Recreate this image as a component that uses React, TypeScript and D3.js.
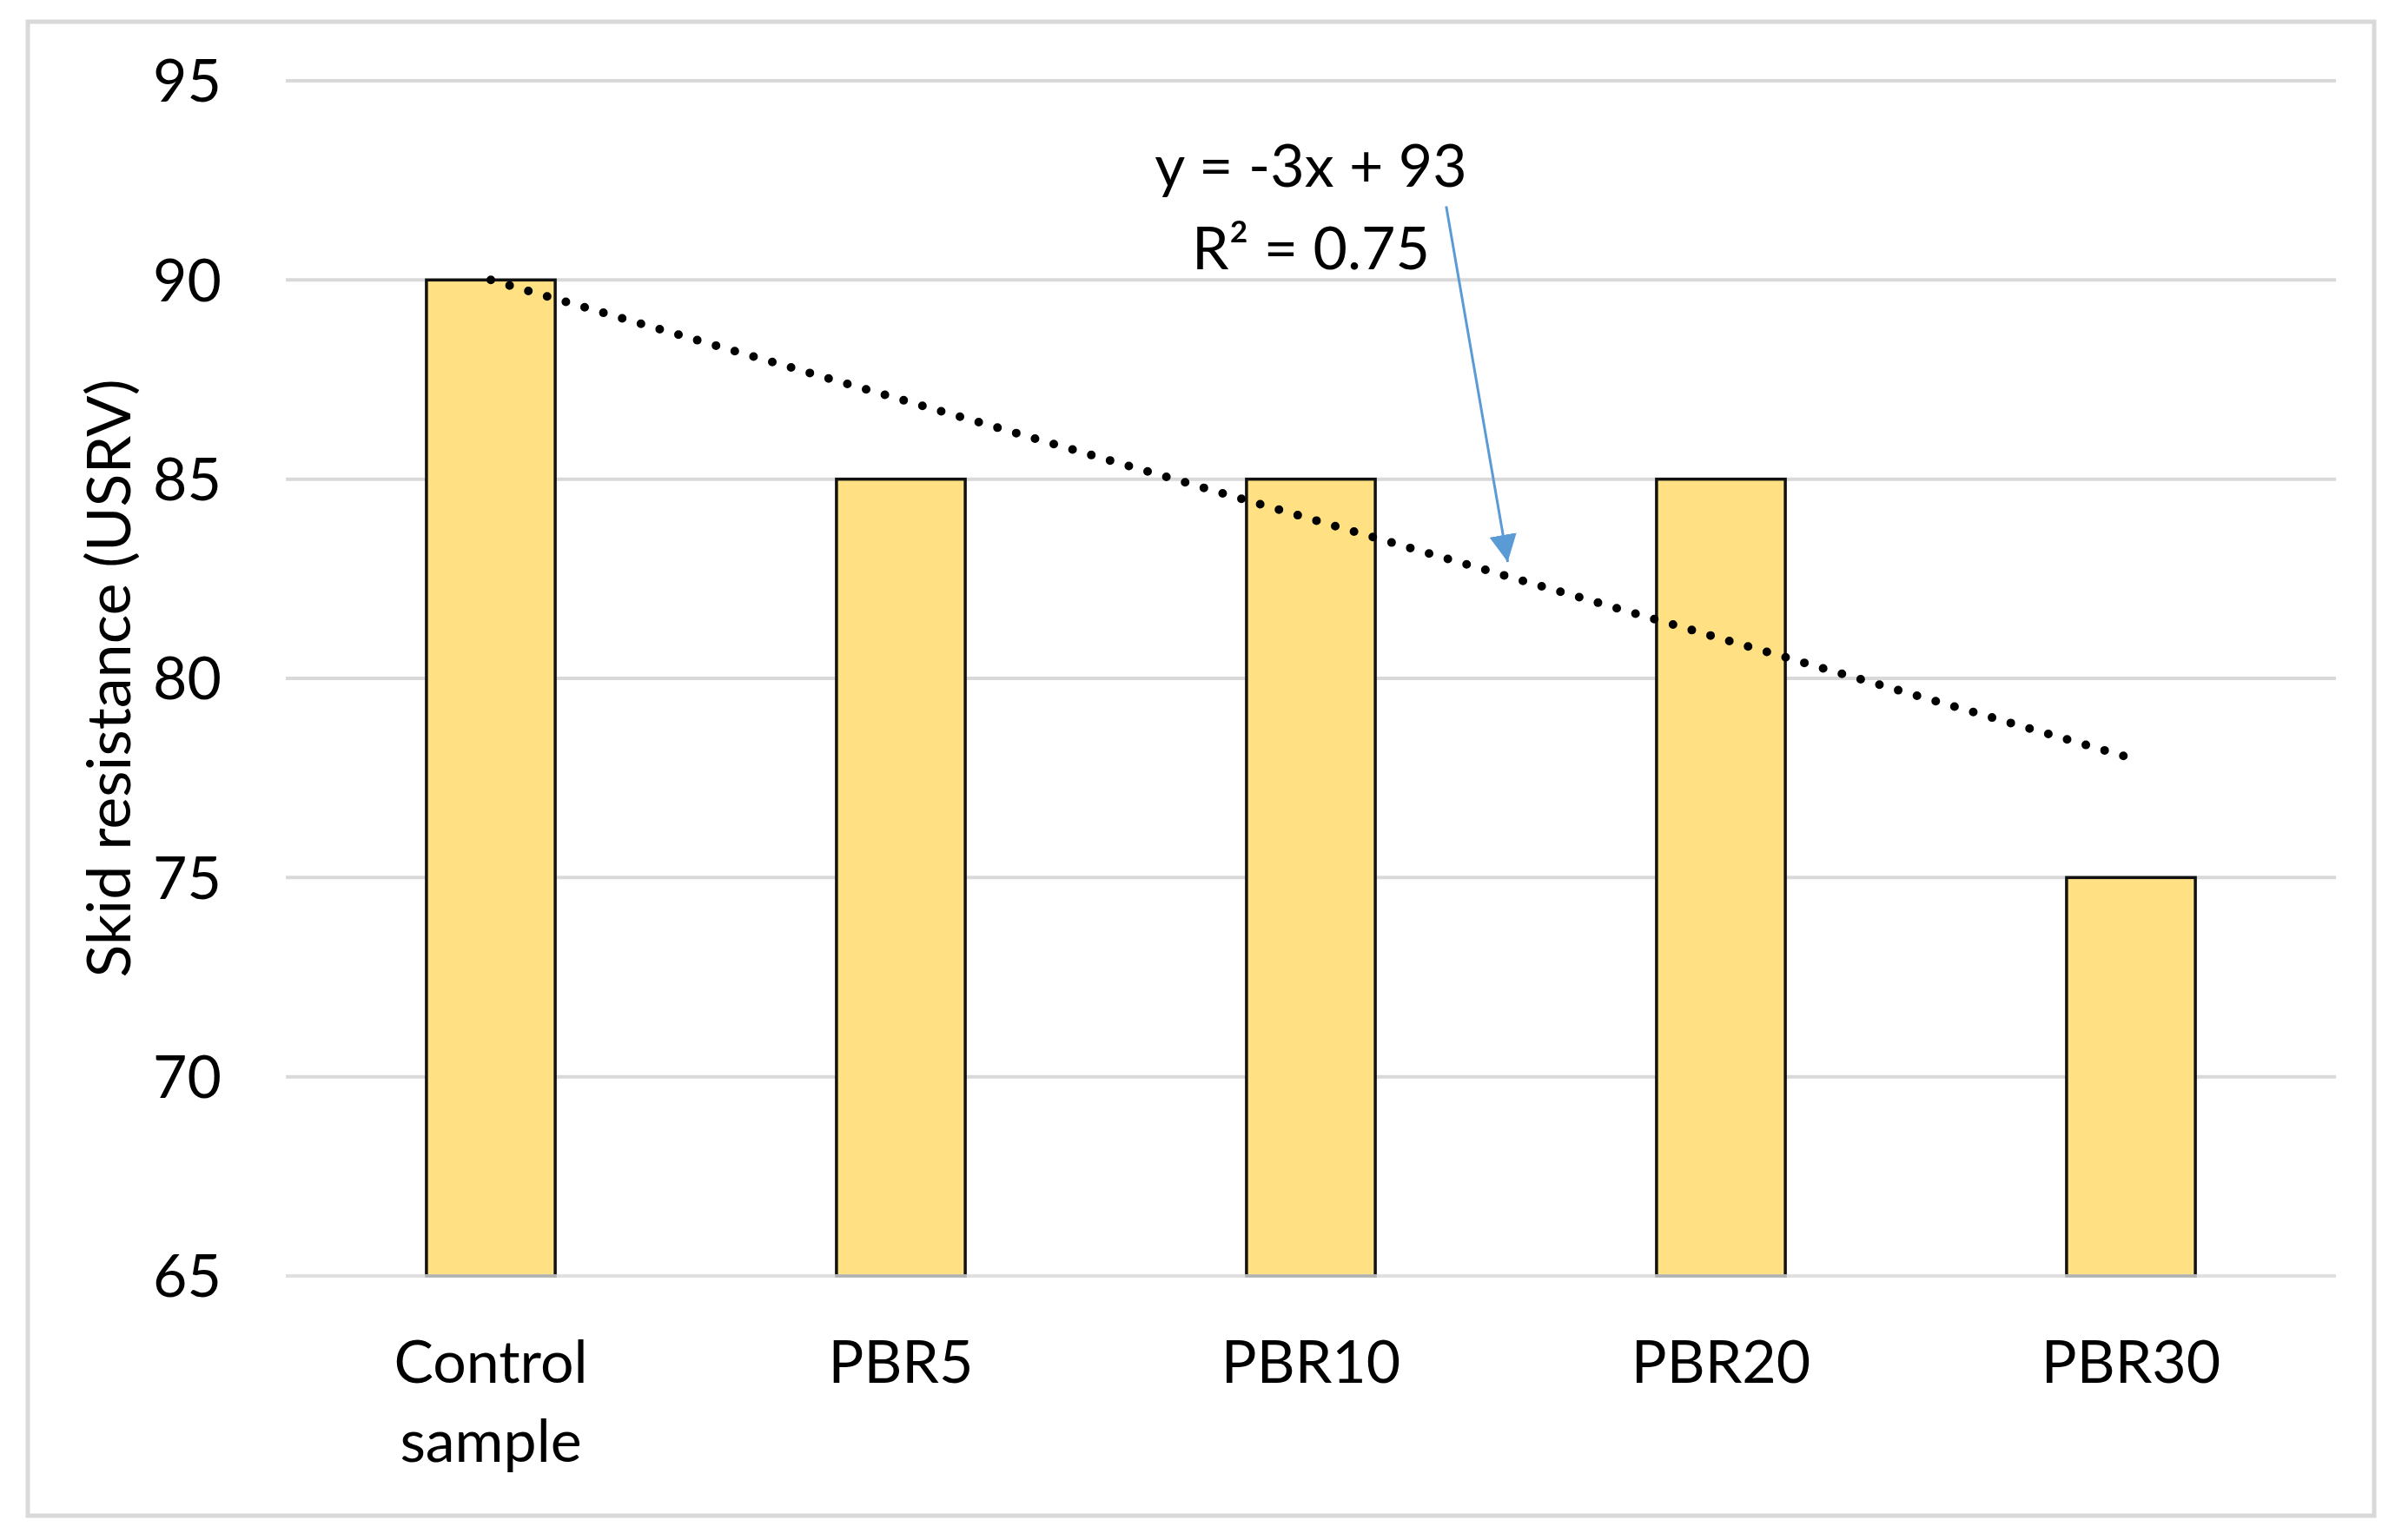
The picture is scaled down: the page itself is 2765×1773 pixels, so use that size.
import React from "react";
import * as d3 from "d3";

const categories = ["Control sample", "PBR5", "PBR10", "PBR20", "PBR30"];
const skidValues = [90, 85, 85, 85, 75];
const yTicks = [65, 70, 75, 80, 85, 90, 95];
const yTitle = "Skid resistance (USRV)";
// annotation arrow in data coordinates (x = 1-based category index, y = value)
const arrowFrom = { x: 3.33, y: 91.85 };
const arrowTo = { x: 3.48, y: 82.92 };
const labelAnchor = { x: 3, y1: 92.34, y2: 90.27 };

const W = 2765;
const H = 1773;
const M = { left: 329, right: 2689, top: 93, bottom: 1469 };
const FONT = "Lato, 'Open Sans', sans-serif";
const FS = 68;

export default function App() {
  const x = d3.scaleBand<string>().domain(categories).range([M.left, M.right]).padding(0);
  const y = d3.scaleLinear().domain([65, 95]).range([M.bottom, M.top]);
  const bw = x.bandwidth() * 0.314;
  const cx = (i: number) => (x(categories[i]) as number) + x.bandwidth() / 2;
  const xIdx = (v: number) => M.left + (v - 0.5) * x.bandwidth();

  // linear regression trendline
  const xs = skidValues.map((_, i) => i + 1);
  const mx = d3.mean(xs) as number;
  const my = d3.mean(skidValues) as number;
  const sxy = d3.sum(xs, (xi, i) => (xi - mx) * (skidValues[i] - my));
  const sxx = d3.sum(xs, (xi) => (xi - mx) ** 2);
  const syy = d3.sum(skidValues, (v) => (v - my) ** 2);
  const slope = sxy / sxx;
  const intercept = my - slope * mx;
  const r2 = (sxy * sxy) / (sxx * syy);
  const trendPts: [number, number][] = [
    [xIdx(1), y(slope * 1 + intercept)],
    [xIdx(xs.length), y(slope * xs.length + intercept)],
  ];
  const line = d3.line();
  const eqText = `y = ${slope < 0 ? "-" : ""}${Math.abs(Math.round(slope))}x ${intercept >= 0 ? "+" : "-"} ${Math.abs(Math.round(intercept))}`;
  const r2Text = `R² = ${r2.toFixed(2)}`;

  const ax1 = xIdx(arrowFrom.x), ay1 = y(arrowFrom.y);
  const ax2 = xIdx(arrowTo.x), ay2 = y(arrowTo.y);

  return (
    <svg width={W} height={H} style={{ position: "absolute", left: 0, top: 0, background: "#fff" }}>
      <defs>
        <marker id="arr" viewBox="0 0 10 10" refX="10" refY="5" markerWidth="10.5" markerHeight="10.5" markerUnits="strokeWidth" orient="auto">
          <path d="M0,0 L10,5 L0,10 Z" fill="#5B9BD5" />
        </marker>
      </defs>
      <rect x={0} y={0} width={W} height={H} fill="#fff" />
      <rect x={32} y={25} width={2701} height={1720} fill="#fff" stroke="#D9D9D9" strokeWidth={5} />
      {yTicks.map((t) => (
        <g key={t}>
          {t !== 65 && (
            <line x1={M.left} x2={M.right} y1={y(t)} y2={y(t)} stroke="#D9D9D9" strokeWidth={4} />
          )}
          <text x={255} y={y(t)} dy="0.36em" textAnchor="end" fontFamily={FONT} fontSize={FS} fill="#000">
            {t}
          </text>
        </g>
      ))}
      {categories.map((c, i) => (
        <rect
          key={c}
          x={cx(i) - bw / 2}
          y={y(skidValues[i])}
          width={bw}
          height={y(65) - y(skidValues[i])}
          fill="#FFE083"
          stroke="#111"
          strokeWidth={3.5}
        />
      ))}
      <line x1={M.left} x2={M.right} y1={y(65)} y2={y(65)} stroke="#D9D9D9" strokeWidth={4} opacity={0.8} />
      {categories.map((c, i) =>
        c.split(" ").map((part, j) => (
          <text key={c + j} x={cx(i)} y={1592 + j * 91} textAnchor="middle" fontFamily={FONT} fontSize={FS} fill="#000">
            {part}
          </text>
        ))
      )}
      <path d={line(trendPts) as string} fill="none" stroke="#000" strokeWidth={10} strokeLinecap="round" strokeDasharray="0 22.5" />
      <text x={xIdx(labelAnchor.x)} y={y(labelAnchor.y1)} textAnchor="middle" fontFamily={FONT} fontSize={FS} fill="#000">
        {eqText}
      </text>
      <text x={xIdx(labelAnchor.x)} y={y(labelAnchor.y2)} textAnchor="middle" fontFamily={FONT} fontSize={FS} fill="#000">
        {r2Text}
      </text>
      <line x1={ax1} y1={ay1} x2={ax2} y2={ay2} stroke="#5B9BD5" strokeWidth={3} markerEnd="url(#arr)" />
      <text
        transform={`translate(150, ${(M.top + M.bottom) / 2}) rotate(-90)`}
        textAnchor="middle"
        fontFamily={FONT}
        fontSize={70}
        fill="#000"
      >
        {yTitle}
      </text>
    </svg>
  );
}
